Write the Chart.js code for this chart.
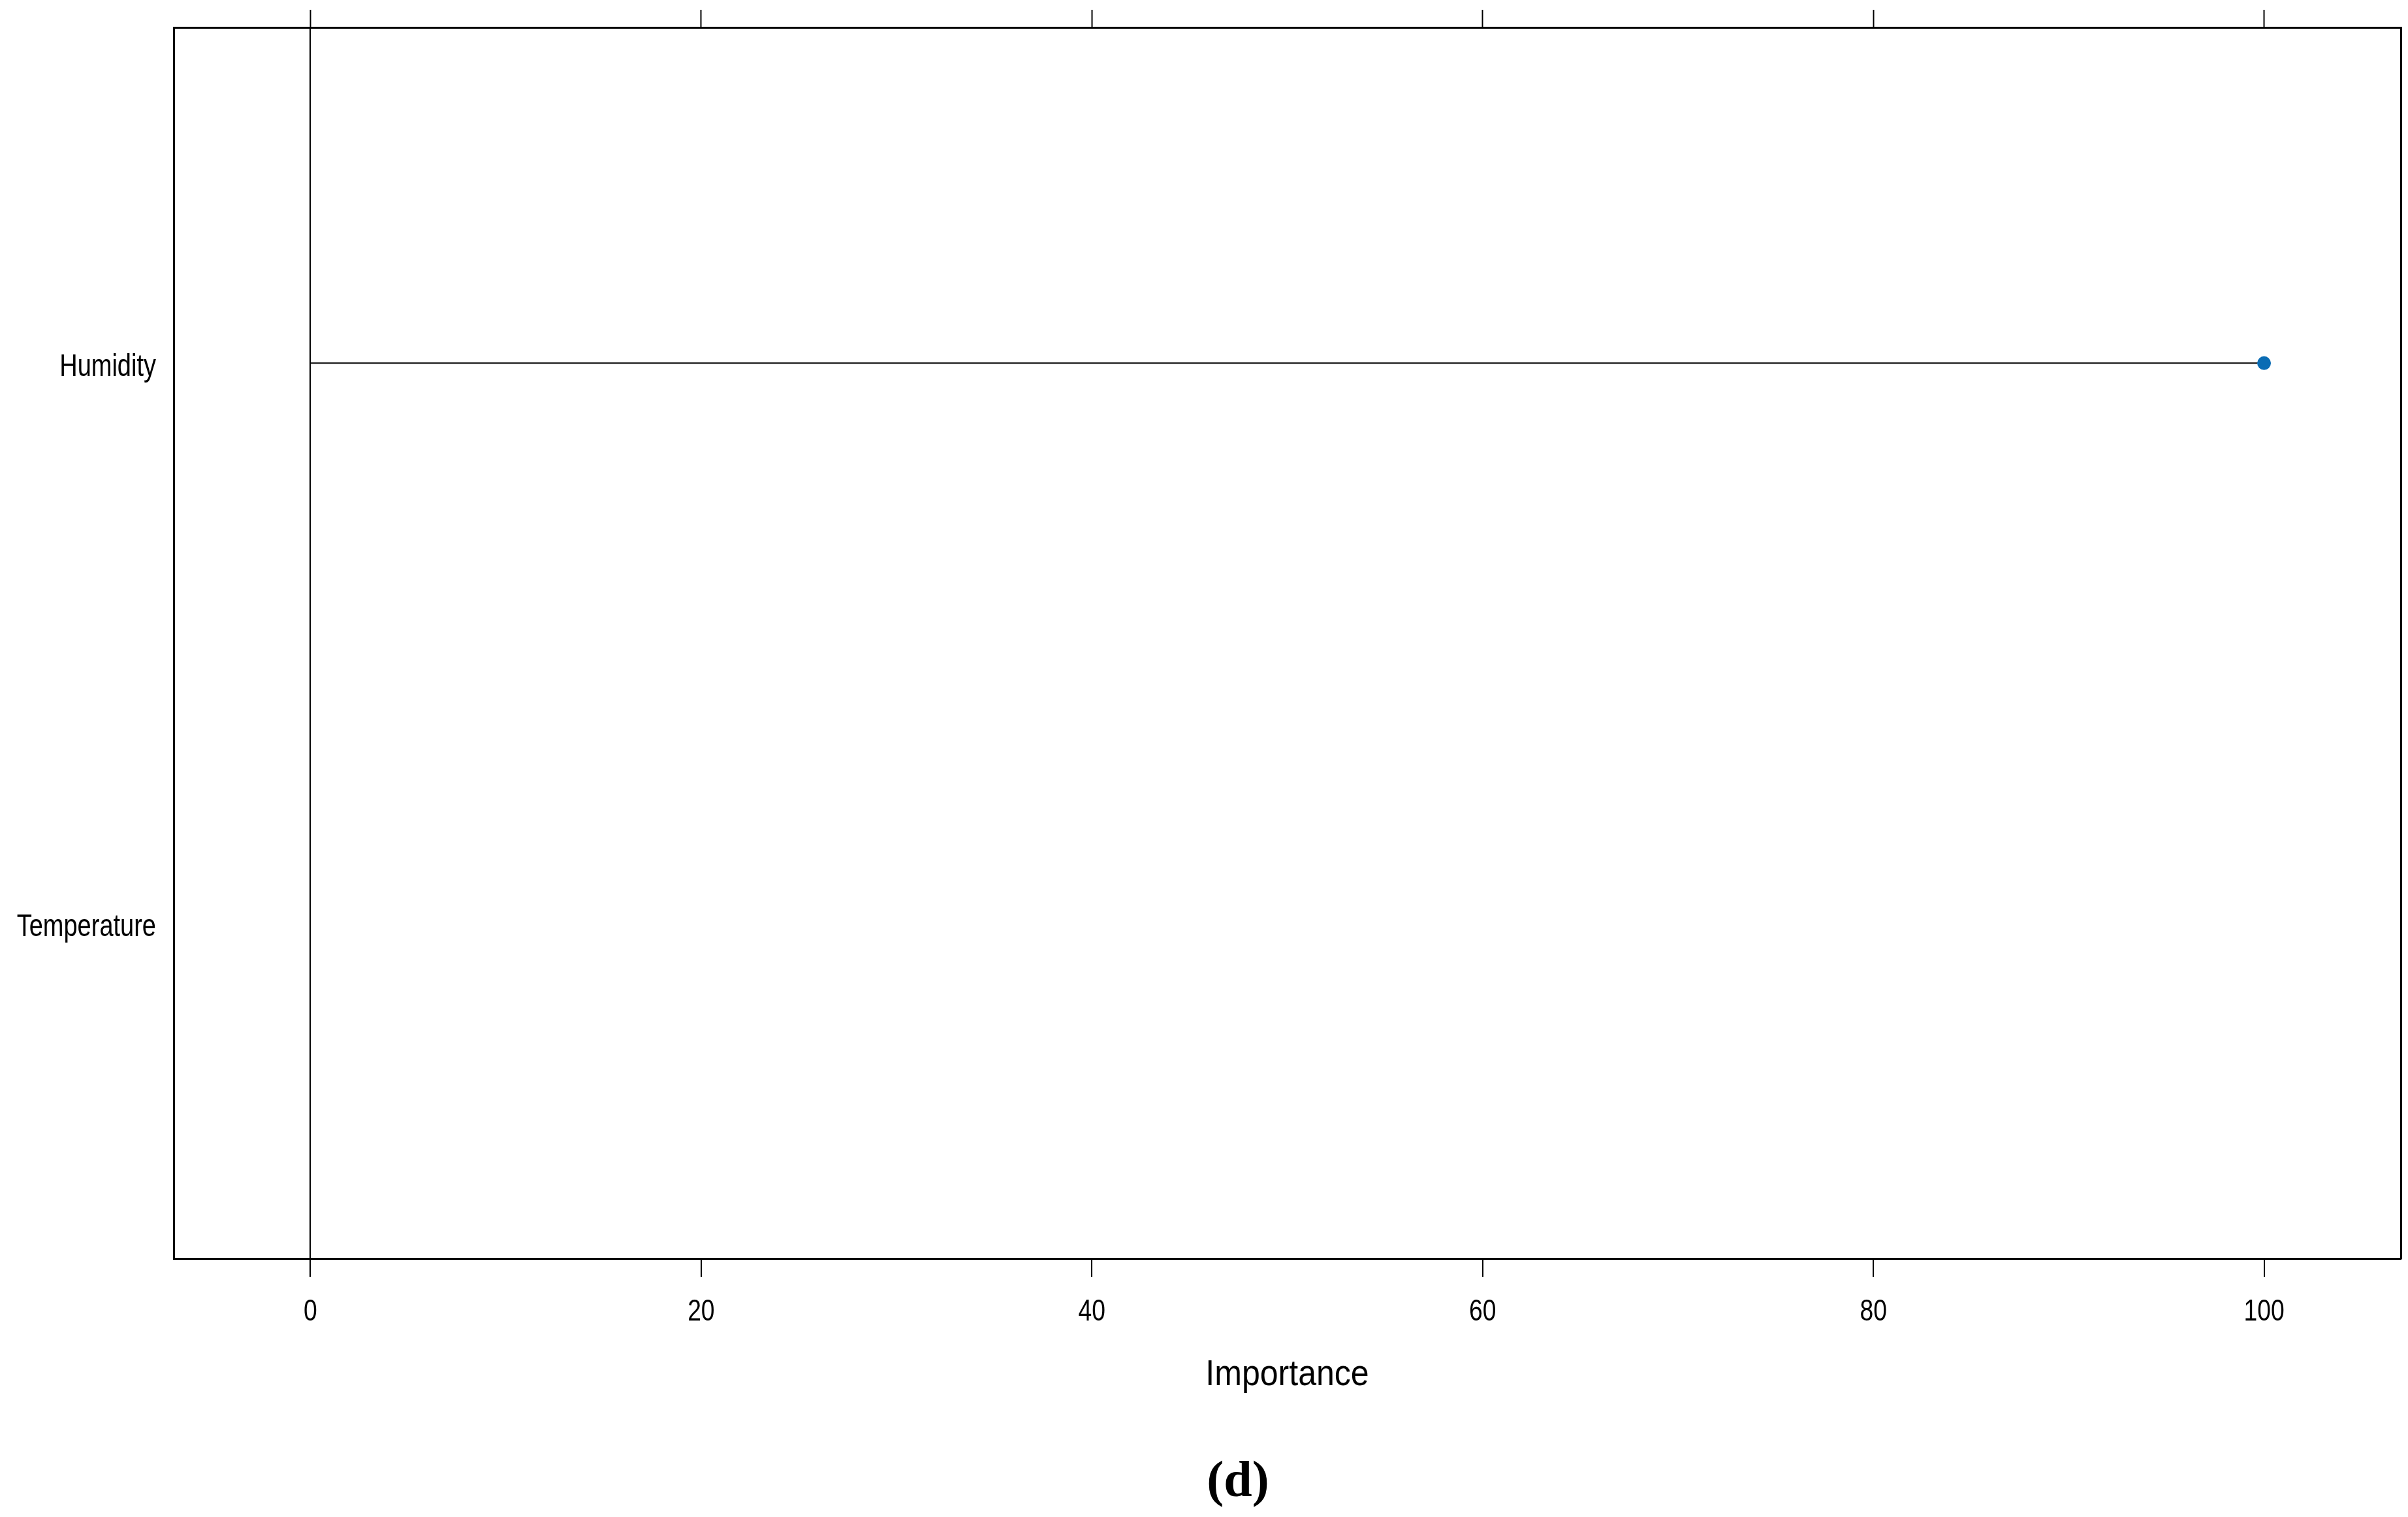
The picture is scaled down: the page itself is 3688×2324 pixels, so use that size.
<!DOCTYPE html>
<html>
<head>
<meta charset="utf-8">
<script src="https://cdn.jsdelivr.net/npm/chart.js@4.4.1/dist/chart.umd.min.js"></script>
<style>
  html, body { margin: 0; padding: 0; background: #ffffff; }
  #wrap { width: 3688px; height: 2324px; }
</style>
</head>
<body>
<div id="wrap"><canvas id="c" width="3688" height="2324"></canvas></div>
<script>
// ---- data ----
const categories = ['Humidity', 'Temperature'];
const importance = [100, 0];
const xTickValues = [0, 20, 40, 60, 80, 100];
const xMin = -7;
const xMax = 107;
const xTitle = 'Importance';
const panelLabel = '(d)';

// ---- styles ----
const FONT = '"Liberation Sans", Arial, sans-serif';
const DOT = '#0a6cb4';

const catPos = categories.map((c, i) => i + 1);

const lineSets = categories.map((c, i) => ({
  label: c,
  data: [{ x: 0, y: catPos[i] }, { x: importance[i], y: catPos[i] }],
  showLine: true,
  borderColor: '#000000',
  borderWidth: 2,
  pointRadius: 0,
  order: 2
}));

const dotSet = {
  label: 'Importance',
  data: importance.map((v, i) => ({ x: v, y: catPos[i] })),
  showLine: false,
  pointRadius: ctx => (importance[ctx.dataIndex] > 0 ? 10.5 : 0),
  pointBackgroundColor: DOT,
  pointBorderColor: DOT,
  pointBorderWidth: 0,
  order: 1
};

const setTicks = vals => scale => { scale.ticks = vals.map(v => ({ value: v })); };

// draws text horizontally condensed (the original uses a narrow sans face)
function narrowText(ctx, text, x, y, size, sx, align, family, weight) {
  ctx.save();
  ctx.font = (weight ? weight + ' ' : '') + size + 'px ' + family;
  ctx.fillStyle = '#000000';
  ctx.textAlign = align;
  ctx.textBaseline = 'alphabetic';
  ctx.translate(x, y);
  ctx.scale(sx, 1);
  ctx.fillText(text, 0, 0);
  ctx.restore();
}

const labelPlugin = {
  id: 'labels',
  afterDraw(chart) {
    const ctx = chart.ctx;
    const ca = chart.chartArea;
    const xs = chart.scales.x;
    const ys = chart.scales.y;
    // category labels
    categories.forEach((c, i) => {
      narrowText(ctx, c, ca.left - 27, ys.getPixelForValue(catPos[i]) + 20, 47.5, 0.8, 'right', FONT);
    });
    // x tick labels
    xTickValues.forEach(v => {
      narrowText(ctx, String(v), xs.getPixelForValue(v), ca.bottom + 95, 46, 0.81, 'center', FONT);
    });
    // axis title
    narrowText(ctx, xTitle, (ca.left + ca.right) / 2, ca.bottom + 194, 55, 0.91, 'center', FONT);
    // panel label
    narrowText(ctx, panelLabel, 1896, 2292, 78, 1, 'center', '"Liberation Serif", "Times New Roman", serif', 'bold');
  }
};

new Chart(document.getElementById('c'), {
  type: 'scatter',
  data: { datasets: [dotSet, ...lineSets] },
  plugins: [labelPlugin],
  options: {
    responsive: false,
    animation: false,
    devicePixelRatio: 1,
    events: [],
    layout: { padding: 0 },
    plugins: { legend: { display: false }, tooltip: { enabled: false }, title: { display: false } },
    scales: {
      x: {
        type: 'linear', position: 'bottom', min: xMin, max: xMax,
        afterBuildTicks: setTicks(xTickValues),
        afterFit: s => { s.height = 396; },
        grid: {
          display: true, drawOnChartArea: true, drawTicks: true, tickLength: 28,
          color: ctx => (ctx.tick && ctx.tick.value === 0 ? '#000000' : 'rgba(0,0,0,0)'),
          lineWidth: 2, tickColor: '#000000', tickWidth: 2
        },
        border: { display: true, color: '#000000', width: 3 },
        ticks: { display: false }
      },
      x2: {
        type: 'linear', position: 'top', min: xMin, max: xMax,
        afterBuildTicks: setTicks(xTickValues),
        afterFit: s => { s.height = 42; },
        grid: { display: true, drawOnChartArea: false, drawTicks: true, tickLength: 27, tickColor: '#000000', tickWidth: 2 },
        border: { display: true, color: '#000000', width: 3 },
        ticks: { display: false }
      },
      y: {
        type: 'linear', position: 'left', min: 0.4, max: 2.6, reverse: true,
        afterBuildTicks: setTicks(catPos),
        afterFit: s => { s.width = 266; s.paddingTop = 0; s.paddingBottom = 0; },
        grid: { display: true, drawOnChartArea: false, drawTicks: false },
        border: { display: true, color: '#000000', width: 3 },
        ticks: { display: false }
      },
      y2: {
        type: 'linear', position: 'right', min: 0.4, max: 2.6,
        afterFit: s => { s.width = 11; s.paddingTop = 0; s.paddingBottom = 0; },
        grid: { display: true, drawOnChartArea: false, drawTicks: false },
        border: { display: true, color: '#000000', width: 3 },
        ticks: { display: false }
      }
    }
  }
});
</script>
</body>
</html>
